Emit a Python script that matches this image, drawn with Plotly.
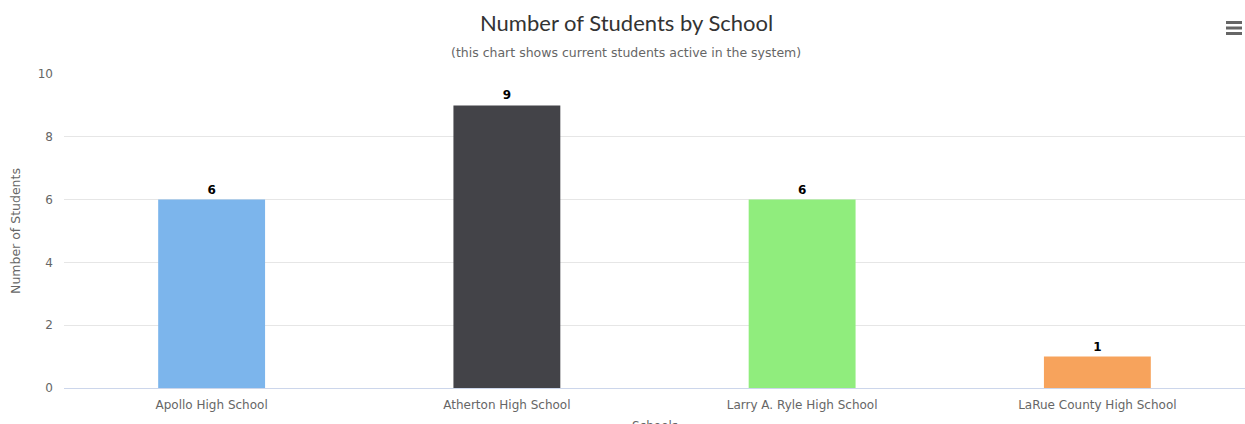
import plotly.graph_objects as go

schools = ["Apollo High School", "Atherton High School", "Larry A. Ryle High School", "LaRue County High School"]
students = [6, 9, 6, 1]
colors = ["#7cb5ec", "#434348", "#90ed7d", "#f7a35c"]
y_ticks = [0, 2, 4, 6, 8, 10]

W, H = 1245, 424
L, R, T, B = 64, 0, 74, 36
pw, ph = W - L - R, H - T - B

def px(x):
    return (x - L) / pw

def py(y):
    return (H - B - y) / ph

fig = go.Figure(go.Bar(
    x=schools, y=students, marker=dict(color=colors, line=dict(width=0)),
    width=0.362, text=students, textposition="outside", cliponaxis=False,
    textfont=dict(family="DejaVu Sans", size=12, color="#000000"),
    texttemplate="<b>%{text}</b>",
))

fig.update_layout(
    width=W, height=H, margin=dict(l=L, r=R, t=T, b=B),
    paper_bgcolor="white", plot_bgcolor="white", showlegend=False,
    xaxis=dict(showline=True, linecolor="#ccd6eb", linewidth=1, showgrid=False,
               tickfont=dict(family="DejaVu Sans", size=12, color="#666666"), ticks="",
               ticklabelstandoff=6),
    yaxis=dict(range=[0, 10], tickvals=y_ticks, showgrid=True, gridcolor="#e6e6e6",
               zeroline=False, showline=False,
               tickfont=dict(family="DejaVu Sans", size=12, color="#666666"),
               ticklabelstandoff=10,
               title=dict(text="Number of Students", font=dict(family="DejaVu Sans", size=12.5, color="#666666"), standoff=14)),
)

fig.add_annotation(text="Number of Students by School", xref="paper", yref="paper",
                   x=px(626), y=py(22), showarrow=False, xanchor="center", yanchor="middle",
                   font=dict(family="Lato", size=22, color="#333333"))
fig.add_annotation(text="(this chart shows current students active in the system)", xref="paper", yref="paper",
                   x=px(626), y=py(52), showarrow=False, xanchor="center", yanchor="middle",
                   font=dict(family="DejaVu Sans", size=12.5, color="#666666"))
fig.add_annotation(text="Schools", xref="paper", yref="paper",
                   x=px(655), y=py(417), showarrow=False, xanchor="center", yanchor="top",
                   font=dict(family="DejaVu Sans", size=12, color="#666666"))

for yy in [22.5, 28, 33.5]:
    fig.add_shape(type="line", xref="paper", yref="paper", x0=px(1226), x1=px(1242),
                  y0=py(yy), y1=py(yy), line=dict(color="#666666", width=3))

fig.write_html("out.html")
